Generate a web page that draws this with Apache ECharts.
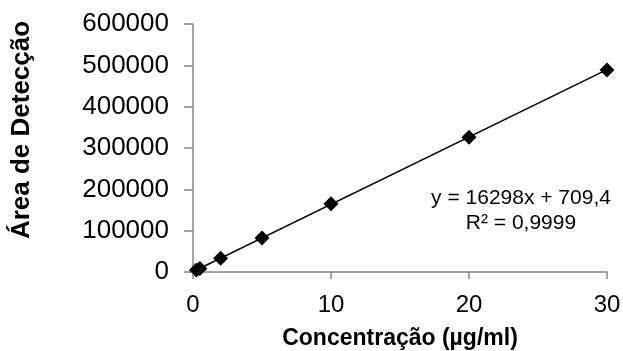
<!DOCTYPE html>
<html>
<head>
<meta charset="utf-8">
<script src="https://cdn.jsdelivr.net/npm/echarts@6/dist/echarts.min.js"></script>
<style>html,body{margin:0;padding:0;background:#fff}#c{width:623px;height:351px}</style>
</head>
<body>
<div id="c"></div>
<script>
var concentrations = [0.25, 0.5, 2, 5, 10, 20, 30];
var areas = [4800, 8600, 33000, 82000, 165000, 326000, 489000];
var trendX = [0.25, 30];
var trendY = [4784, 489649];
var yTicks = [0, 100000, 200000, 300000, 400000, 500000, 600000];
var xTicks = [0, 10, 20, 30];
var equationText = 'y = 16298x + 709,4';
var r2Text = 'R² = 0,9999';
var xTitle = 'Concentração (µg/ml)';
var yTitle = 'Área de Detecção';

var chart = echarts.init(document.getElementById('c'), null, {renderer: 'canvas'});
var font = 'Liberation Sans, Arial, sans-serif';
chart.setOption({
  animation: false,
  backgroundColor: '#fff',
  grid: {left: 193, right: 16, top: 24, bottom: 79, containLabel: false, outerBoundsMode: 'none'},
  xAxis: {
    type: 'value', min: xTicks[0], max: xTicks[xTicks.length-1], interval: 10,
    axisLine: {lineStyle: {color: '#878787', width: 1.5}},
    axisTick: {show: true, length: 7, lineStyle: {color: '#878787', width: 1.5}},
    splitLine: {show: false},
    axisLabel: {color: '#000', fontSize: 24, fontFamily: font, margin: 21, formatter: function(v){return String(v);}},
    name: xTitle, nameLocation: 'middle', nameGap: 55,
    nameTextStyle: {color: '#000', fontSize: 23, fontWeight: 'bold', fontFamily: font}
  },
  yAxis: {
    type: 'value', min: yTicks[0], max: yTicks[yTicks.length-1], interval: 100000,
    axisLine: {show: true, lineStyle: {color: '#878787', width: 1.5}},
    axisTick: {show: true, length: 9, lineStyle: {color: '#878787', width: 1.5}},
    splitLine: {show: false},
    axisLabel: {color: '#000', fontSize: 26, fontFamily: font, margin: 24, formatter: function(v){return String(v);}}
  },
  series: [
    {
      type: 'line', data: trendX.map(function(x,i){return [x, trendY[i]];}),
      showSymbol: false, symbol: 'none', lineStyle: {color: '#000', width: 1.5}, z: 2
    },
    {
      type: 'scatter', data: concentrations.map(function(x,i){return [x, areas[i]];}),
      symbol: 'diamond', symbolSize: 15, itemStyle: {color: '#000', opacity: 1}, z: 3
    }
  ],
  graphic: [
    {type: 'text', x: 22, y: 130, rotation: Math.PI / 2,
     style: {text: yTitle, x: 0, y: 0, textAlign: 'center', textVerticalAlign: 'middle', fill: '#000', font: 'bold 26px ' + font}},
    {type: 'text', style: {text: equationText, x: 521, y: 198, textAlign: 'center', textVerticalAlign: 'middle', fill: '#000', font: '21px ' + font}},
    {type: 'text', style: {text: r2Text, x: 521, y: 223, textAlign: 'center', textVerticalAlign: 'middle', fill: '#000', font: '21px ' + font}}
  ]
});
</script>
</body>
</html>
